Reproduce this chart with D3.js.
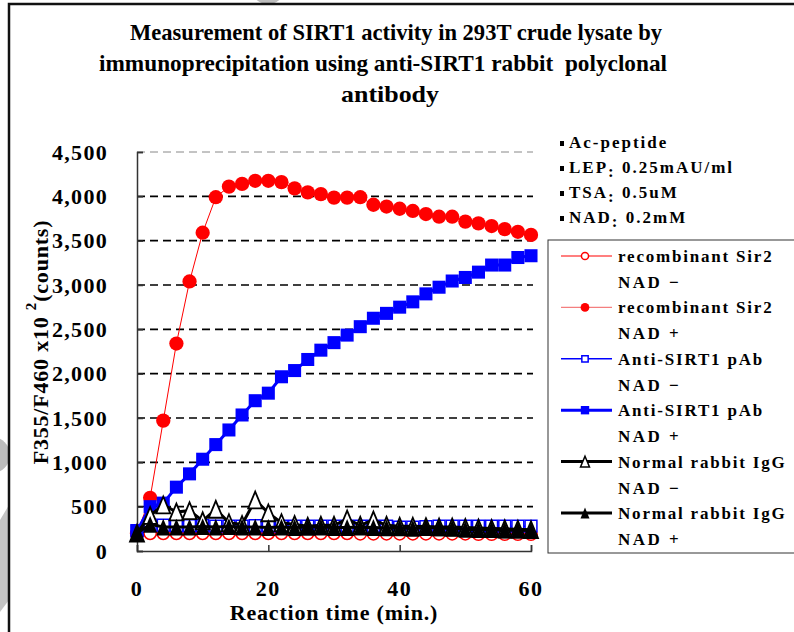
<!DOCTYPE html>
<html>
<head>
<meta charset="utf-8">
<script src="https://cdn.jsdelivr.net/npm/d3@7"></script>
<style>
  body { margin: 0; background: #fff; }
  text { font-family: "Liberation Serif", "Times New Roman", serif; font-weight: bold; }
</style>
</head>
<body>
<div class="chart"></div>
<script>
// Data: reaction time (min.) and counts for each series
const times = [0, 2, 4, 6, 8, 10, 12, 14, 16, 18, 20, 22, 24, 26, 28, 30,
    32, 34, 36, 38, 40, 42, 44, 46, 48, 50, 52, 54, 56, 58, 60];

const sir2NadMinus = [190, 200, 200, 200, 200, 200, 200, 200, 200, 200, 200, 200, 200, 200, 200, 200,
    200, 195, 195, 195, 195, 195, 195, 195, 195, 195, 190, 190, 190, 190, 190];
const sir2NadPlus = [200, 600, 1470, 2340, 3040, 3590, 3990, 4110, 4140, 4175, 4175, 4160, 4090, 4045, 4025, 3985,
    3985, 3990, 3905, 3885, 3860, 3835, 3800, 3770, 3770, 3715, 3695, 3665, 3630, 3600, 3565];
const pabNadMinus = [230, 290, 290, 285, 285, 285, 280, 280, 280, 285, 285, 280, 280, 280, 280, 280,
    280, 280, 280, 280, 270, 270, 275, 280, 280, 280, 280, 280, 280, 280, 280];
const pabNadPlus = [225, 500, 540, 720, 870, 1035, 1200, 1365, 1534, 1695, 1780, 1965, 2035, 2160, 2265, 2350,
    2435, 2530, 2625, 2680, 2750, 2810, 2900, 2975, 3045, 3085, 3145, 3225, 3225, 3310, 3330];
const iggNadMinus = [200, 400, 520, 440, 455, 340, 470, 320, 300, 575, 430, 320, 300, 280, 290, 290,
    360, 290, 350, 290, 280, 280, 275, 270, 270, 265, 260, 255, 250, 245, 240];
const iggNadPlus = [200, 300, 270, 270, 270, 275, 270, 275, 270, 270, 265, 270, 265, 270, 270, 265,
    265, 270, 265, 260, 260, 255, 265, 260, 255, 245, 240, 240, 235, 235, 230];

const yTicks = [0, 500, 1000, 1500, 2000, 2500, 3000, 3500, 4000, 4500];
const xTicks = [0, 20, 40, 60];

const titleLines = [
    "Measurement of SIRT1 activity in 293T crude lysate by",
    "immunoprecipitation using anti-SIRT1 rabbit\u00a0 polyclonal",
    "antibody"
];
const conditions = ["Ac-peptide", "LEP|0.25mAU/ml", "TSA|0.5uM", "NAD|0.2mM"];

const seriesList = [
    { name: "recombinant Sir2", nad: "NAD \u2212", values: sir2NadMinus, color: "red", legendLine: "red",
      lineWidth: 1, marker: "circle", filled: false },
    { name: "recombinant Sir2", nad: "NAD +", values: sir2NadPlus, color: "red", legendLine: "#f47f7f",
      lineWidth: 1, marker: "circle", filled: true },
    { name: "Anti-SIRT1 pAb", nad: "NAD \u2212", values: pabNadMinus, color: "blue", legendLine: "blue",
      lineWidth: 1.5, marker: "square", filled: false },
    { name: "Anti-SIRT1 pAb", nad: "NAD +", values: pabNadPlus, color: "blue", legendLine: "blue",
      lineWidth: 3, marker: "square", filled: true },
    { name: "Normal rabbit IgG", nad: "NAD \u2212", values: iggNadMinus, color: "black", legendLine: "black",
      lineWidth: 3, marker: "triangle", filled: false },
    { name: "Normal rabbit IgG", nad: "NAD +", values: iggNadPlus, color: "black", legendLine: "black",
      lineWidth: 3, marker: "triangle", filled: true }
];

const W = 794, H = 632;
const plot = { left: 137, right: 531, top: 152, bottom: 551 };

const svg = d3.select(".chart").append("svg")
    .attr("width", W)
    .attr("height", H);

// watermark bits and the frame
svg.append("circle").attr("cx", 268).attr("cy", -14).attr("r", 18).attr("fill", "#bdbdbd");
svg.append("circle").attr("cx", -8).attr("cy", 455).attr("r", 18).attr("fill", "#bdbdbd");
svg.append("path").attr("d", "M0,520 L9,505 L9,600 L0,612 Z").attr("fill", "#c4c4c4");
svg.append("path")
    .attr("d", `M9,${H} L9,4 L${W},4`)
    .attr("fill", "none")
    .attr("stroke", "#111")
    .attr("stroke-width", 2.5);

// Scales
const x = d3.scaleLinear().domain([0, 60]).range([plot.left, plot.right]);
const y = d3.scaleLinear().domain([0, 4500]).range([plot.bottom, plot.top]);

// Grid lines
svg.append("g")
    .selectAll("line")
    .data(yTicks.filter(d => d > 0))
    .enter()
    .append("line")
    .attr("x1", plot.left)
    .attr("x2", plot.right + 2)
    .attr("y1", d => y(d))
    .attr("y2", d => y(d))
    .attr("stroke", d => d === 4500 ? "#888" : "#000")
    .attr("stroke-width", d => d === 4500 ? 1 : 1.6)
    .attr("stroke-dasharray", "8,5");

// Axes (ticks inside)
const yAxis = svg.append("g")
    .attr("transform", `translate(${plot.left},0)`)
    .call(d3.axisRight(y).tickValues(yTicks).tickSize(6).tickFormat(""));
const xAxis = svg.append("g")
    .attr("transform", `translate(0,${plot.bottom})`)
    .call(d3.axisTop(x).tickValues(xTicks).tickSize(6).tickFormat(""));
[yAxis, xAxis].forEach(a => {
    a.select(".domain").attr("stroke", "#333").attr("stroke-width", 1.5);
    a.selectAll(".tick line").attr("stroke", "#333").attr("stroke-width", 1.5);
});

// Tick labels
svg.append("g")
    .selectAll("text")
    .data(yTicks)
    .enter()
    .append("text")
    .attr("x", 108)
    .attr("y", d => y(d) + 7.5)
    .attr("text-anchor", "end")
    .style("font-size", "22px")
    .style("letter-spacing", "1.3px")
    .text(d3.format(","));

svg.append("g")
    .selectAll("text")
    .data(xTicks)
    .enter()
    .append("text")
    .attr("x", d => x(d))
    .attr("y", 596)
    .attr("text-anchor", "middle")
    .style("font-size", "22px")
    .style("letter-spacing", "1.5px")
    .text(d => d);

svg.append("text")
    .attr("x", (plot.left + plot.right) / 2)
    .attr("y", 620)
    .attr("text-anchor", "middle")
    .style("font-size", "22px")
    .style("letter-spacing", "0.8px")
    .text("Reaction time (min.)");

// Y title with superscript
const yTitle = svg.append("text")
    .attr("transform", "translate(48,342) rotate(-90)")
    .attr("text-anchor", "middle")
    .style("font-size", "22px")
    .style("letter-spacing", "0.8px");
yTitle.append("tspan").text("F355/F460 x10 ");
yTitle.append("tspan").attr("dy", -12).style("font-size", "15px").text("2");
yTitle.append("tspan").attr("dy", 12).text("(counts)");

// Title
svg.append("g")
    .selectAll("text")
    .data(titleLines)
    .enter()
    .append("text")
    .attr("x", (d, i) => [396, 383, 390][i])
    .attr("y", (d, i) => 40 + i * 31)
    .attr("text-anchor", "middle")
    .attr("textLength", (d, i) => [532, 568, 98][i])
    .attr("lengthAdjust", "spacingAndGlyphs")
    .style("font-size", "24px")
    .text(d => d);

// Marker shapes (triangle centred on its box, like the spreadsheet markers)
const markerPath = (type, s) => {
    if (type === "circle") return d3.symbol(d3.symbolCircle, s)();
    if (type === "square") return d3.symbol(d3.symbolSquare, s)();
    const w = s / 2, h = s * 0.6;
    return `M0,${-h}L${w},${h}L${-w},${h}Z`;
};

// Lines and markers, drawn in series order
seriesList.forEach(s => {
    const pts = times.map((t, i) => ({ t: t, v: s.values[i] }));
    svg.append("path")
        .datum(pts)
        .attr("fill", "none")
        .attr("stroke", s.color)
        .attr("stroke-width", s.lineWidth)
        .attr("d", d3.line().x(d => x(d.t)).y(d => y(d.v)));

    const size = s.marker === "circle" ? (s.filled ? 160 : 120)
        : s.marker === "square" ? (s.filled ? 170 : 140) : 14;
    svg.append("g")
        .selectAll("path")
        .data(pts)
        .enter()
        .append("path")
        .attr("transform", d => `translate(${x(d.t)},${y(d.v)})`)
        .attr("d", markerPath(s.marker, size))
        .attr("fill", s.filled ? s.color : "#fff")
        .attr("stroke", s.color)
        .attr("stroke-width", s.filled ? 0 : (s.marker === "triangle" ? 1.8 : 1.5));
});

// Legend
const legend = svg.append("g").attr("transform", "translate(548,240)");
legend.append("rect")
    .attr("width", 260)
    .attr("height", 313)
    .attr("fill", "#fff")
    .attr("stroke", "#333")
    .attr("stroke-width", 1);

seriesList.forEach((s, i) => {
    const g = legend.append("g").attr("transform", `translate(0,${16 + i * 51.4})`);
    g.append("line")
        .attr("x1", 13).attr("x2", 64)
        .attr("stroke", s.legendLine)
        .attr("stroke-width", s.lineWidth === 1 ? 1.2 : s.lineWidth);
    const lsize = s.marker === "circle" ? (s.filled ? 60 : 40)
        : s.marker === "square" ? (s.filled ? 70 : 40) : 9;
    g.append("path")
        .attr("transform", "translate(37,0)")
        .attr("d", markerPath(s.marker, lsize))
        .attr("fill", s.filled ? s.color : "#fff")
        .attr("stroke", s.color)
        .attr("stroke-width", s.filled ? 0 : 1.5);
    g.append("text")
        .attr("x", 70).attr("y", 6)
        .style("font-size", "17px")
        .style("letter-spacing", "1.8px")
        .text(s.name);
    g.append("text")
        .attr("x", 70).attr("y", 32)
        .style("font-size", "17px")
        .style("letter-spacing", "2.5px")
        .text(s.nad);
});

// Conditions list
const cond = svg.append("g").attr("transform", "translate(560,0)");
conditions.forEach((c, i) => {
    const yy = 148 + i * 25;
    cond.append("rect")
        .attr("x", 0).attr("y", yy - 7)
        .attr("width", 4).attr("height", 5)
        .attr("fill", "#000");
    const parts = c.split("|");
    const t = cond.append("text")
        .attr("x", 9).attr("y", yy)
        .style("font-size", "17px")
        .style("letter-spacing", "2px");
    t.append("tspan").text(parts[0]);
    if (parts.length > 1) {
        t.append("tspan").attr("dy", 4).text(":");
        t.append("tspan").attr("dy", -4).text(" " + parts[1]);
    }
});
</script>
</body>
</html>
